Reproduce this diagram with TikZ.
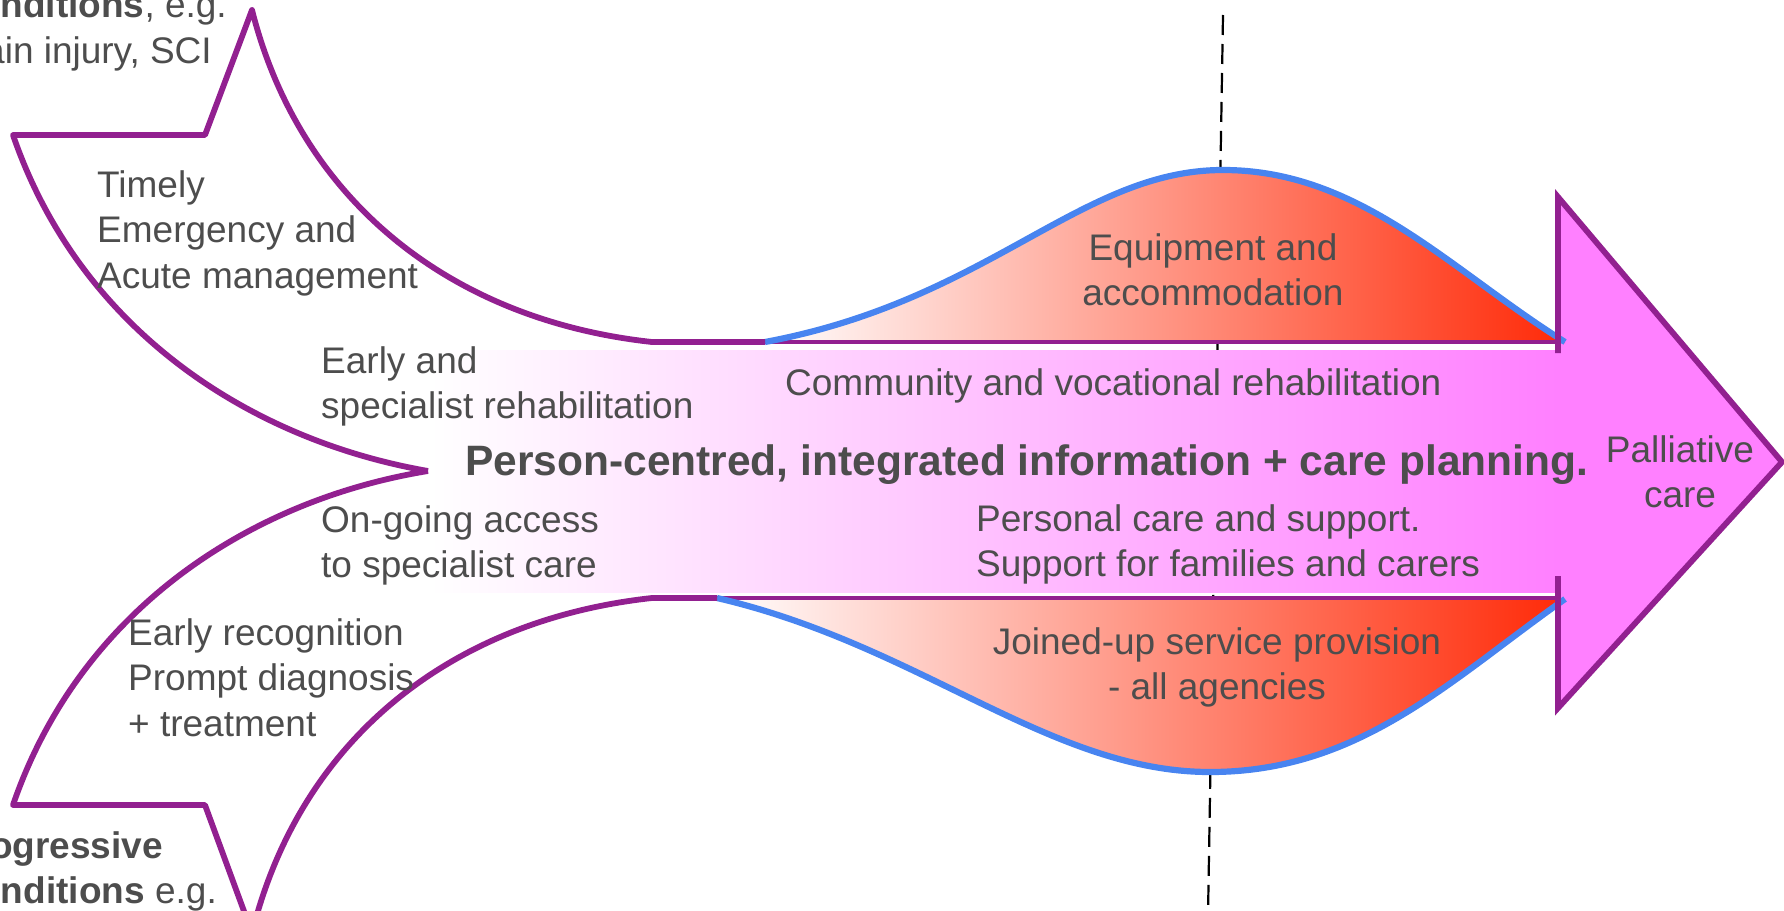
\documentclass[tikz,border=0pt]{standalone}
\usepackage{fontspec}
\setmainfont{Liberation Sans}
\definecolor{purp}{RGB}{146,32,144}
\definecolor{blueln}{RGB}{72,132,240}
\definecolor{pinkA}{RGB}{255,128,255}
\definecolor{redA}{RGB}{255,42,8}
\definecolor{txtc}{RGB}{77,77,77}
\newcommand{\lefttab}[1]{\begin{tabular}[t]{@{}l@{}}#1\end{tabular}}
\newcommand{\centtab}[1]{\begin{tabular}[t]{@{}c@{}}#1\end{tabular}}
\begin{document}
\begin{tikzpicture}[x=1pt,y=-1pt,
  lbl/.style={inner sep=0pt, text=txtc, font=\fontsize{37}{45.5}\selectfont},
  boldlbl/.style={inner sep=0pt, text=txtc, font=\fontsize{42.5}{50}\selectfont\bfseries},
  purpout/.style={draw=purp, line width=5.8pt, line join=round},
  purpthin/.style={draw=purp, line width=3.2pt},
  blueedge/.style={draw=blueln, line width=6.2pt},
  dashln/.style={draw=black, line width=2.2pt, dash pattern=on 20pt off 9pt},
  redgrad/.style={left color=white, right color=redA},
  pinkgrad/.style={left color=white, right color=pinkA}]
\useasboundingbox (0,0) rectangle (1784,910);
\clip (0,0) rectangle (1784,910);
% dashed divider
\coordinate (dtop) at (1223,15);
\coordinate (dbot) at (1208,915);
\draw[dashln] (dtop) -- (dbot);
% main band and head
\shade[pinkgrad] (430,350) rectangle (1558,592);
\fill[pinkA] (1556,350) -- (1556,197) -- (1782,462) -- (1556,708) -- (1556,592) -- cycle;
% red regions
\shade[redgrad] (765,343) .. controls (990,300) and (1080,170) .. (1223,170)
  .. controls (1360,170) and (1450,270) .. (1565,343) -- cycle;
\shade[redgrad] (717,597) .. controls (920,645) and (1050,772) .. (1210,772)
  .. controls (1360,772) and (1450,680) .. (1565,599) -- cycle;
% thin purple lines
\coordinate (ut1) at (765,342); \coordinate (ut2) at (1558,342);
\coordinate (lt1) at (717,598); \coordinate (lt2) at (1558,598);
\draw[purpthin] (ut1) -- (ut2);
\draw[purpthin] (lt1) -- (lt2);
% blue edges
\draw[blueedge] (ut1) .. controls (990,300) and (1080,170) .. (1223,170)
  .. controls (1360,170) and (1450,270) .. (1565,342);
\draw[blueedge] (lt1) .. controls (920,645) and (1050,772) .. (1210,772)
  .. controls (1360,772) and (1450,680) .. (1565,599);
% incoming arrows
\coordinate (conv) at (428,471);
\draw[purpout] (conv) .. controls (250,440) and (80,330) .. (13,135) -- (205,135) -- (252,10)
  .. controls (300,200) and (450,320) .. (652,342) -- (ut1);
\draw[purpout] (conv) .. controls (250,500) and (80,610) .. (13,805) -- (205,805) -- (252,933)
  .. controls (300,740) and (450,620) .. (652,598) -- (lt1);
% head outline
\draw[purpout, line join=miter] (1558,353) -- (1558,197) -- (1782,462) -- (1558,708) -- (1558,576);
% texts
\node[lbl, anchor=base east] (tl1) at (227,17) {\textbf{nditions}, e.g.};
\node[lbl, anchor=base east] (tl2) at (212,63) {ain injury, SCI};
\node[lbl, anchor=base east] (bl1) at (163,858) {\textbf{ogressive}};
\node[lbl, anchor=base east] (bl2) at (217,903) {\textbf{nditions} e.g.};
\node[lbl, anchor=base west] (timely) at (97,197) {\lefttab{Timely\\Emergency and\\Acute management}};
\node[lbl, anchor=base west] (early) at (321,373) {\lefttab{Early and\\specialist rehabilitation}};
\node[lbl, anchor=base west] (ongoing) at (321,532) {\lefttab{On-going access\\to specialist care}};
\node[lbl, anchor=base west] (recog) at (128,645) {\lefttab{Early recognition\\Prompt diagnosis\\+ treatment}};
\node[boldlbl, anchor=base west] (centre) at (465,475) {Person-centred, integrated information + care planning.};
\node[lbl, anchor=base west] (comm) at (785,395) {Community and vocational rehabilitation};
\node[lbl, anchor=base] (equip) at (1213,260) {\centtab{Equipment and\\accommodation}};
\node[lbl, anchor=base west] (pers) at (976,531) {\lefttab{Personal care and support.\\Support for families and carers}};
\node[lbl, anchor=base] (joined) at (1217,654) {\centtab{Joined-up service provision\\- all agencies}};
\node[lbl, anchor=base] (pall) at (1680,462) {\centtab{Palliative\\care}};
\end{tikzpicture}
\end{document}
